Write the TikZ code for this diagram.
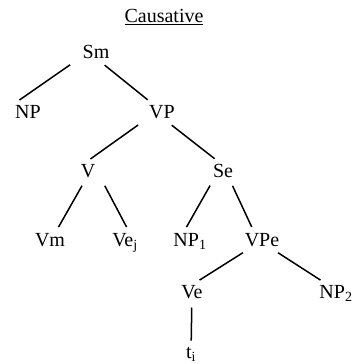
\documentclass[tikz,border=0pt]{standalone}
\usepackage{fontspec}
\setmainfont{Liberation Serif}
\usepackage{tikz}
\usetikzlibrary{positioning}

\tikzset{
  cat/.style={anchor=base,inner sep=3pt,font=\fontsize{20}{24}\selectfont},
  branch/.style={line width=1.5pt,shorten <=6pt,shorten >=3pt}
}

\begin{document}
\begin{tikzpicture}
\begin{scope}[x=1pt,y=-1pt]
\useasboundingbox (0,0) rectangle (354,364);
% titre et noeuds de l'arbre
\node (title) at (164,23) [cat] {\underline{Causative}};
\node (Sm) at (96,58) [cat] {Sm};
\node (NP) at (28,118) [cat] {NP};
\node (VP) at (162,118) [cat] {VP};
\node (V) at (88,177) [cat] {V};
\node (Se) at (223,177) [cat] {Se};
\node (Vm) at (50,246) [cat] {Vm};
\node (Vej) at (125,246) [cat] {Ve\textsubscript{j}};
\node (NPa) at (190,246) [cat] {NP\textsubscript{1}};
\node (VPe) at (262,246) [cat] {VPe};
\node (Ve) at (192,298) [cat] {Ve};
\node (NPb) at (336,298) [cat] {NP\textsubscript{2}};
\node (t) at (191,358) [cat] {t\textsubscript{i}};
% branches
\draw[branch] ([xshift=-21pt]Sm.south) -- ([xshift=-11pt]NP.north);
\draw[branch] ([xshift=4pt]Sm.south) -- ([xshift=-12pt]VP.north);
\draw[branch] ([xshift=-19pt]VP.south) -- (V.north);
\draw[branch] ([xshift=5pt]VP.south) -- ([xshift=-6pt]Se.north);
\draw[branch] ([xshift=-3pt]V.south) -- ([xshift=7pt]Vm.north);
\draw[branch] ([xshift=14pt]V.south) -- ([xshift=3pt]Vej.north);
\draw[branch] ([xshift=-10pt]Se.south) -- ([xshift=-5pt]NPa.north);
\draw[branch] ([xshift=7pt]Se.south) -- ([xshift=-9pt]VPe.north);
\draw[branch] ([xshift=-14pt]VPe.south) -- ([xshift=5pt]Ve.north);
\draw[branch] ([xshift=11pt]VPe.south) -- ([xshift=-13pt]NPb.north);
\draw[branch] (Ve) -- (t);
\end{scope}
\end{tikzpicture}
\end{document}
